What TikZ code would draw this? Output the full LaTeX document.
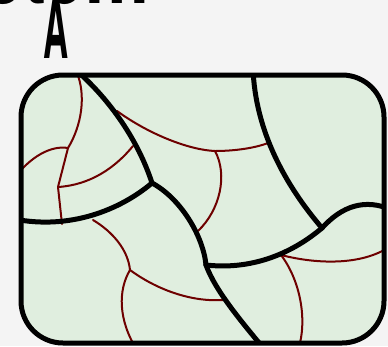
\documentclass[tikz,border=0pt]{standalone}
\usepackage{fontspec}
\setmainfont{TeX Gyre Heros}
\usepackage{tikz}
\usetikzlibrary{calc}
\usepackage{xcolor}
\definecolor{bggray}{HTML}{F4F4F4}
\definecolor{cellfill}{HTML}{E0EEDF}
\definecolor{wallred}{HTML}{6E0000}

\begin{document}
\begin{tikzpicture}[x=1pt, y=-1pt,
      every node/.style={font=\bfseries, inner sep=0pt},
      thickwall/.style={line width=5pt, black, line cap=round, line join=round},
      thinwall/.style={line width=2pt, wallred, line cap=round, line join=round}
    ]
      \useasboundingbox (0,0) rectangle (388,346);
      \fill[bggray] (0,0) rectangle (388,346);

      % Titulo y etiqueta
      \node[anchor=base east] (titulo) at (150,3)
        {\fontsize{120}{120}\selectfont\scalebox{0.6}[1]{stem}};
      \node[anchor=base] (etiqueta) at (56,58)
        {\fontsize{85}{85}\selectfont\scalebox{0.41}[1]{A}};

      % Caja
      \fill[cellfill, rounded corners=42pt] (21,75) rectangle (384,343);

      % Uniones
      \foreach \n/\x/\y in {J1/152/183, J2/206/265, J3/322/228, K/281/255,
                            R1/68/148, R2/58/187, R3/215/151, R4/130/270}{
        \coordinate (\n) at (\x,\y);
      }

      \begin{scope}
        \clip[rounded corners=42pt] (21,75) rectangle (384,343);
        % Lineas finas
        \draw[thinwall] (77,73) .. controls (86,95) and (82,125) .. (R1) -- (R2) -- (62,224);
        \draw[thinwall] (R1) .. controls (50,145) and (30,158) .. (16,176);
        \draw[thinwall] (R2) .. controls (90,185) and (115,168) .. (133,146);
        \draw[thinwall] (117,111) .. controls (150,135) and (190,150) .. (R3)
                             .. controls (235,151) and (255,148) .. (268,143);
        \draw[thinwall] (R3) .. controls (228,175) and (220,210) .. (198,231);
        \draw[thinwall] (93,220) .. controls (113,232) and (128,250) .. (R4);
        \draw[thinwall] (R4) .. controls (118,290) and (118,320) .. (137,350);
        \draw[thinwall] (R4) .. controls (160,292) and (195,302) .. (223,300);
        \draw[thinwall] (K) .. controls (300,280) and (308,320) .. (298,350);
        \draw[thinwall] (K) .. controls (320,265) and (365,265) .. (392,245);
        % Lineas gruesas
        \draw[thickwall] (77,71) .. controls (110,100) and (138,140) .. (J1);
        \draw[thickwall] (J1) .. controls (120,210) and (70,230) .. (14,219);
        \draw[thickwall] (J1) .. controls (180,198) and (203,235) .. (J2);
        \draw[thickwall] (J2) .. controls (215,290) and (240,320) .. (265,350);
        \draw[thickwall] (J2) .. controls (250,270) and (290,255) .. (J3);
        \draw[thickwall] (253,68) .. controls (255,130) and (285,185) .. (J3);
        \draw[thickwall] (J3) .. controls (342,206) and (365,198) .. (392,210);
      \end{scope}

      % Borde
      \draw[line width=5pt, rounded corners=42pt] (21,75) rectangle (384,343);
    \end{tikzpicture}
\end{document}
